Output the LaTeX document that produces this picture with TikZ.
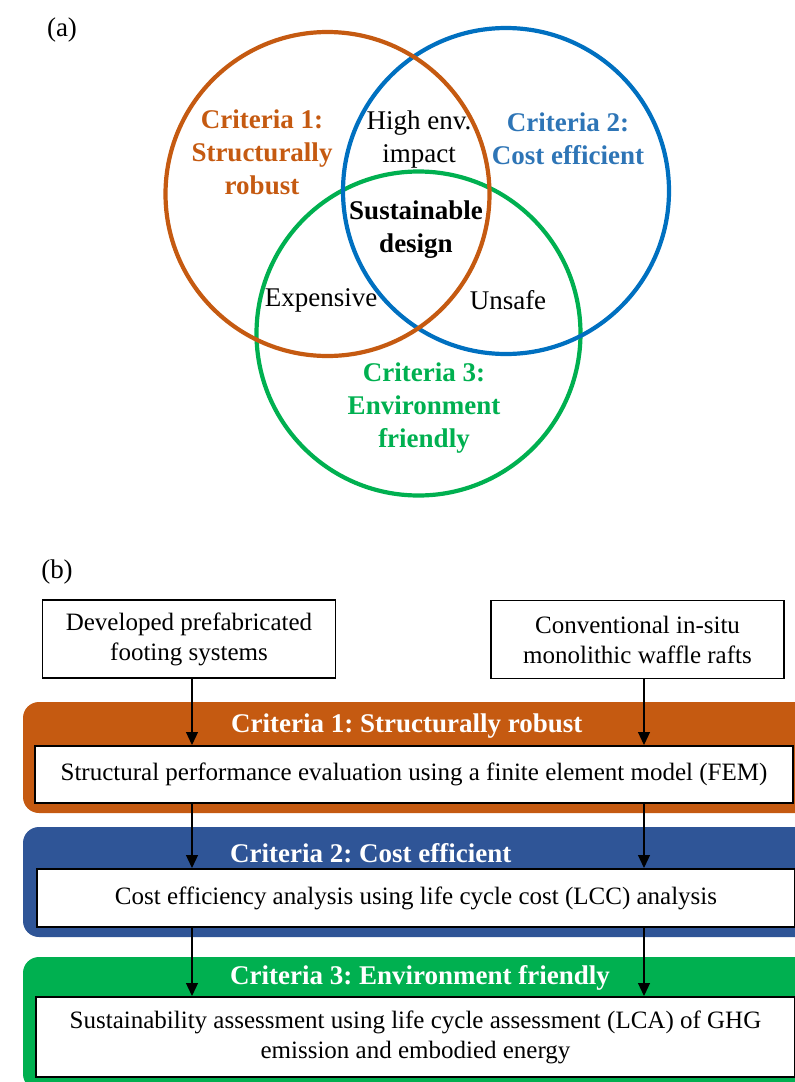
\documentclass[tikz,border=0pt]{standalone}
\usepackage{fontspec}
\setmainfont{Liberation Serif}
\usetikzlibrary{arrows.meta}
\frenchspacing
\definecolor{corange}{HTML}{C55A11}
\definecolor{cblue}{HTML}{0070C0}
\definecolor{cbluetxt}{HTML}{2E75B6}
\definecolor{cgreen}{HTML}{00B050}
\definecolor{cbandblue}{HTML}{2F5597}
\tikzset{
  venn/.style={line width=4.2pt},
  vtxt/.style={align=center, inner sep=0pt, font=\fontsize{27}{33}\selectfont},
  vbold/.style={vtxt, font=\fontsize{27}{33}\selectfont\bfseries},
  lab/.style={inner sep=0pt, font=\fontsize{27}{33}\selectfont},
  topbox/.style={draw, line width=1.6pt, minimum width=293pt, minimum height=78pt, align=center, inner sep=0pt, font=\fontsize{25}{30}\selectfont},
  wbox/.style={draw, fill=white, line width=2pt, align=center, inner sep=0pt, font=\fontsize{25}{30}\selectfont},
  bandtitle/.style={anchor=west, inner sep=0pt, text=white, font=\fontsize{27}{33}\selectfont\bfseries},
  arr/.style={line width=1.2pt, -{Triangle[length=13pt, width=12pt]}}
}
\begin{document}
\begin{tikzpicture}[x=1pt, y=-1pt]
\useasboundingbox (0,0) rectangle (795,1082);
% ---------- (a) ----------
\node[lab] (a) at (62,30) {(a)};
\draw[venn, cgreen] (418.5,333.5) circle[radius=162];
\draw[venn, cblue] (506,191) circle[radius=163];
\draw[venn, corange] (327.5,194) circle[radius=162];
\node[vbold, text=corange] (c1) at (262,152) {Criteria 1:\\Structurally\\robust};
\node[vbold, text=cbluetxt] (c2) at (568,139) {Criteria 2:\\Cost efficient};
\node[vtxt] (hi) at (419,140) {High env.\\impact};
\node[vbold] (sd) at (416,230) {Sustainable\\design};
\node[vtxt] (ex) at (321,300) {Expensive};
\node[vtxt] (us) at (508,300) {Unsafe};
\node[vbold, text=cgreen] (c3) at (424,408) {Criteria 3:\\Environment\\friendly};
% ---------- (b) ----------
\node[lab] (b) at (57,572) {(b)};
\node[topbox] (dev) at (189,639) {Developed prefabricated\\footing systems};
\node[topbox] (conv) at (637.5,639.5) {Conventional in-situ\\monolithic waffle rafts};
% bands
\fill[corange, rounded corners=16pt] (23,702) rectangle (830,813);
\fill[cbandblue, rounded corners=16pt] (23,827) rectangle (830,937);
\fill[cgreen, rounded corners=16pt] (23,957) rectangle (830,1090);
\node[bandtitle] (t1) at (231,726) {Criteria 1: Structurally robust};
\node[bandtitle] (t2) at (230,853) {Criteria 2: Cost efficient};
\node[bandtitle] (t3) at (230,978) {Criteria 3: Environment friendly};
\node[wbox, minimum width=758pt, minimum height=57pt] (fem) at (414,774.5) {Structural performance evaluation using a finite element model (FEM)};
\node[wbox, minimum width=758pt, minimum height=58pt] (lcc) at (416,898) {Cost efficiency analysis using life cycle cost (LCC) analysis};
\node[wbox, minimum width=759pt, minimum height=80pt] (lca) at (415.5,1037) {Sustainability assessment using life cycle assessment (LCA) of GHG\\emission and embodied energy};
% arrows
\coordinate (lx) at (192,0);
\coordinate (rx) at (644,0);
\draw[arr] (dev.south -| lx) -- (fem.north -| lx);
\draw[arr] (conv.south -| rx) -- (fem.north -| rx);
\draw[arr] (fem.south -| lx) -- (lcc.north -| lx);
\draw[arr] (fem.south -| rx) -- (lcc.north -| rx);
\draw[arr] (lcc.south -| lx) -- (lca.north -| lx);
\draw[arr] (lcc.south -| rx) -- (lca.north -| rx);
\end{tikzpicture}
\end{document}
